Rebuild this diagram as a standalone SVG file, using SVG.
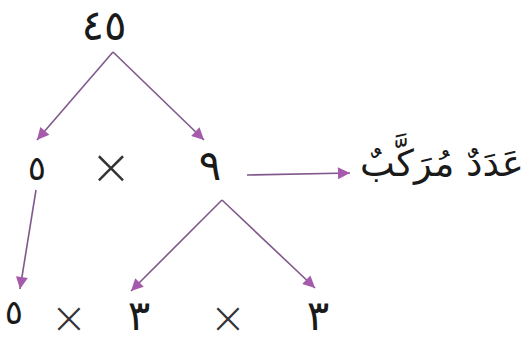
<svg xmlns="http://www.w3.org/2000/svg" width="531" height="345" viewBox="0 0 531 345">
<style>
.num{font-family:"DejaVu Sans",sans-serif;font-size:42px;fill:#1a1a1a;text-anchor:middle}
.sm{font-size:34px}
.x{font-family:"DejaVu Sans",sans-serif;font-weight:200;font-size:50px;fill:#333;text-anchor:middle}
.xb{font-size:44px}
.lbl{font-family:"DejaVu Sans",sans-serif;font-size:37px;fill:#1a1a1a;text-anchor:middle}
.c{stroke:#80588c;stroke-width:1.6;fill:none}
</style>
<defs>
<marker id="ah" viewBox="0 0 10 10" refX="10" refY="5" markerWidth="17" markerHeight="12" markerUnits="userSpaceOnUse" orient="auto">
<path d="M0,0 L10,5 L0,10 Z" fill="#a55aac"/>
</marker>
</defs>
<g id="connectors">
<path class="c" d="M113,52 L37,140" marker-end="url(#ah)"/>
<path class="c" d="M113,52 L204,140" marker-end="url(#ah)"/>
<path class="c" d="M247,175 L350,173" marker-end="url(#ah)"/>
<path class="c" d="M36,190 L20,289" marker-end="url(#ah)"/>
<path class="c" d="M222,200 L131,291" marker-end="url(#ah)"/>
<path class="c" d="M222,200 L315,288" marker-end="url(#ah)"/>
</g>
<g id="n45"><text class="num" x="104" y="40">٤٥</text></g>
<g id="n5a"><text class="num sm" x="37" y="180">٥</text></g>
<g id="m1"><text class="x" x="111" y="184">×</text></g>
<g id="n9"><text class="num" x="210" y="180">٩</text></g>
<g id="label"><text class="lbl" x="442" y="176" direction="rtl">عَدَدٌ مُرَكَّبٌ</text></g>
<g id="n5b"><text class="num sm" x="14" y="324">٥</text></g>
<g id="m2"><text class="x xb" x="69" y="333">×</text></g>
<g id="n3a"><text class="num" x="139" y="330">٣</text></g>
<g id="m3"><text class="x xb" x="228" y="333">×</text></g>
<g id="n3b"><text class="num" x="318" y="330">٣</text></g>
</svg>
